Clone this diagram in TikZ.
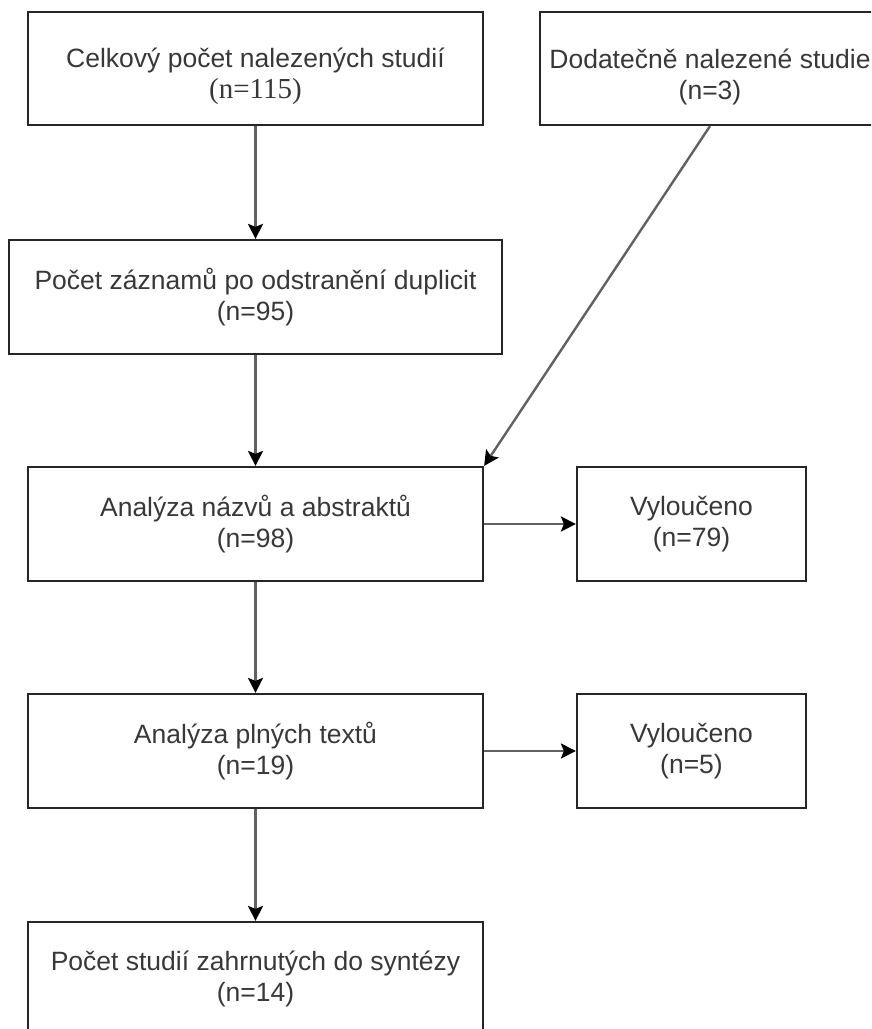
\documentclass[tikz,border=0pt]{standalone}
\usepackage{fontspec}
\setmainfont{Liberation Sans}
\newfontfamily\serifn{Liberation Serif}
\usetikzlibrary{arrows.meta}

\begin{document}
\begin{tikzpicture}[x=1pt,y=-1pt,
	box/.style={draw=black!85, line width=2.2pt, align=center, text=black!78, inner sep=0pt, font=\fontsize{26.5}{31}\selectfont},
	pfeil/.style={draw=black!62, line width=2.4pt, -{Stealth[length=15pt,width=15pt,inset=3pt,color=black]}}]

	\clip (0,0) rectangle (871,1029);

	% Boxen oben
	\node[box, minimum width=455, minimum height=113] (celk) at (255.5,68.5) {\rule{0pt}{36pt}Celkový počet nalezených studií\\{\serifn\fontsize{29}{31}\selectfont (n=115)}};
	\node[box, minimum width=340, minimum height=113] (dod) at (710,68.5) {\rule{0pt}{36pt}Dodatečně nalezené studie\\(n=3)};

	% Hauptspalte
	\node[box, minimum width=493, minimum height=114] (pocet) at (255.5,297) {Počet záznamů po odstranění duplicit\\(n=95)};
	\node[box, minimum width=455, minimum height=114] (anaz) at (255.5,524) {Analýza názvů a abstraktů\\(n=98)};
	\node[box, minimum width=455, minimum height=114] (plne) at (255.5,751) {Analýza plných textů\\(n=19)};
	\node[box, minimum width=455, minimum height=114] (synt) at (255.5,979) {Počet studií zahrnutých do syntézy\\(n=14)};

	% Vyloučeno rechts
	\node[box, minimum width=229, minimum height=114] (vyl1) at (691.5,524) {Vyloučeno\\(n=79)};
	\node[box, minimum width=229, minimum height=114] (vyl2) at (691.5,751) {Vyloučeno\\(n=5)};

	% Pfeile nach unten
	\draw[pfeil] (celk) -- (pocet);
	\draw[pfeil] (pocet) -- (anaz);
	\draw[pfeil] (anaz) -- (plne);
	\draw[pfeil] (plne) -- (synt);

	% Pfeile nach rechts
	\draw[pfeil] (anaz) -- (vyl1);
	\draw[pfeil] (plne) -- (vyl2);

	% Schraeger Pfeil
	\draw[pfeil] (dod.south) -- (anaz.north east);

\end{tikzpicture}
\end{document}
